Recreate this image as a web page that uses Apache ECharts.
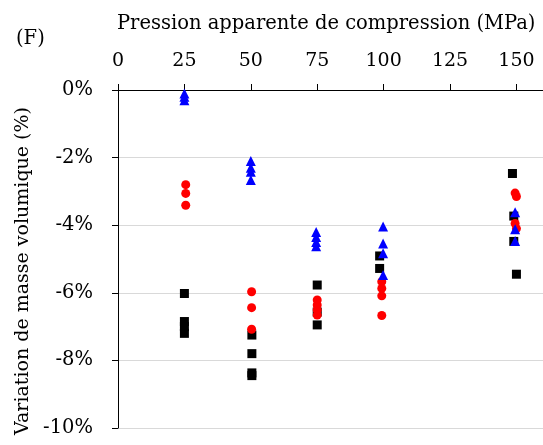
<!DOCTYPE html>
<html>
<head>
<meta charset="utf-8">
<script src="https://cdn.jsdelivr.net/npm/echarts@6/dist/echarts.min.js"></script>
<style>
html,body{margin:0;padding:0;background:#fff;}
#chart{width:543px;height:445px;}
</style>
</head>
<body>
<div id="chart"></div>
<script>
// Data (x: MPa, y: % density change)
const blackX = [25, 25, 25, 25, 50.4, 50.4, 50.4, 50.4, 75, 75, 75, 98.5, 98.5, 148.5, 149, 149, 150];
const blackY = [-6.02, -6.85, -7.0, -7.2, -7.25, -7.8, -8.37, -8.45, -5.77, -6.57, -6.95, -4.91, -5.28, -2.47, -3.73, -4.48, -5.45];
const redX = [25.5, 25.5, 25.5, 50.3, 50.3, 50.3, 75, 75, 75, 75, 99.3, 99.3, 99.3, 99.3, 149.5, 150, 149.5, 150];
const redY = [-2.8, -3.06, -3.41, -5.97, -6.44, -7.08, -6.21, -6.36, -6.51, -6.66, -5.67, -5.87, -6.09, -6.67, -3.05, -3.15, -3.95, -4.1];
const blueX = [25, 25, 25, 50, 50, 50, 50, 74.6, 74.6, 74.6, 74.6, 99.8, 99.8, 99.8, 99.8, 149.5, 149.5, 149.5];
const blueY = [-0.1, -0.2, -0.3, -2.1, -2.3, -2.42, -2.66, -4.2, -4.35, -4.5, -4.62, -4.04, -4.54, -4.83, -5.47, -3.62, -4.12, -4.47];
const xTicks = [0, 25, 50, 75, 100, 125, 150];
const yTicks = [0, -2, -4, -6, -8, -10];
const xTitle = 'Pression apparente de compression (MPa)';
const yTitle = 'Variation de masse volumique (%)';
const panelLabel = '(F)';

const FONT = 'DejaVu Serif';
const pairs = (xs, ys) => xs.map((x, i) => [x, ys[i]]);

const chart = echarts.init(document.getElementById('chart'), null, {renderer: 'canvas'});
chart.setOption({
  animation: false,
  backgroundColor: '#fff',
  title: [
    {text: xTitle, left: 112, top: 9, textStyle: {fontFamily: FONT, fontSize: 19.5, fontWeight: 'normal', color: '#000'}},
    {text: panelLabel, left: 11, top: 24, textStyle: {fontFamily: FONT, fontSize: 19.5, fontWeight: 'normal', color: '#000'}}
  ],
  grid: {left: 118, top: 90, right: 0, height: 338, containLabel: false},
  xAxis: {
    type: 'value', position: 'top', min: 0, max: 160, interval: 25,
    axisLine: {show: true, lineStyle: {color: '#000', width: 1}},
    axisTick: {show: true, inside: false, length: 6, lineStyle: {color: '#000'}},
    axisLabel: {
      margin: 19, showMaxLabel: false,
      fontFamily: FONT, fontSize: 19, color: '#000',
      formatter: v => xTicks.includes(v) ? String(v) : ''
    },
    splitLine: {show: false}
  },
  yAxis: {
    type: 'value', min: -10, max: 0, interval: 2,
    name: yTitle, nameLocation: 'middle', nameGap: 85, nameRotate: 90,
    nameTextStyle: {fontFamily: FONT, fontSize: 19, color: '#000', padding: [0, 24, 0, 0]},
    axisLine: {show: true, onZero: false, lineStyle: {color: '#000', width: 1}},
    axisTick: {show: true, inside: false, length: 6, lineStyle: {color: '#000'}},
    axisLabel: {
      margin: 25, fontFamily: FONT, fontSize: 19.5, color: '#000', padding: [6, 0, 0, 0],
      formatter: v => yTicks.includes(v) ? v + '%' : ''
    },
    splitLine: {show: true, lineStyle: {color: '#d9d9d9', width: 1}}
  },
  series: [
    {name: 'Série noire', type: 'scatter', symbol: 'rect', symbolSize: 9, itemStyle: {color: '#000', opacity: 1}, data: pairs(blackX, blackY)},
    {name: 'Série rouge', type: 'scatter', symbol: 'circle', symbolSize: 9, itemStyle: {color: '#ff0000', opacity: 1}, data: pairs(redX, redY)},
    {name: 'Série bleue', type: 'scatter', symbol: 'triangle', symbolSize: 10, itemStyle: {color: '#0000ff', opacity: 1}, data: pairs(blueX, blueY)}
  ]
});
</script>
</body>
</html>
